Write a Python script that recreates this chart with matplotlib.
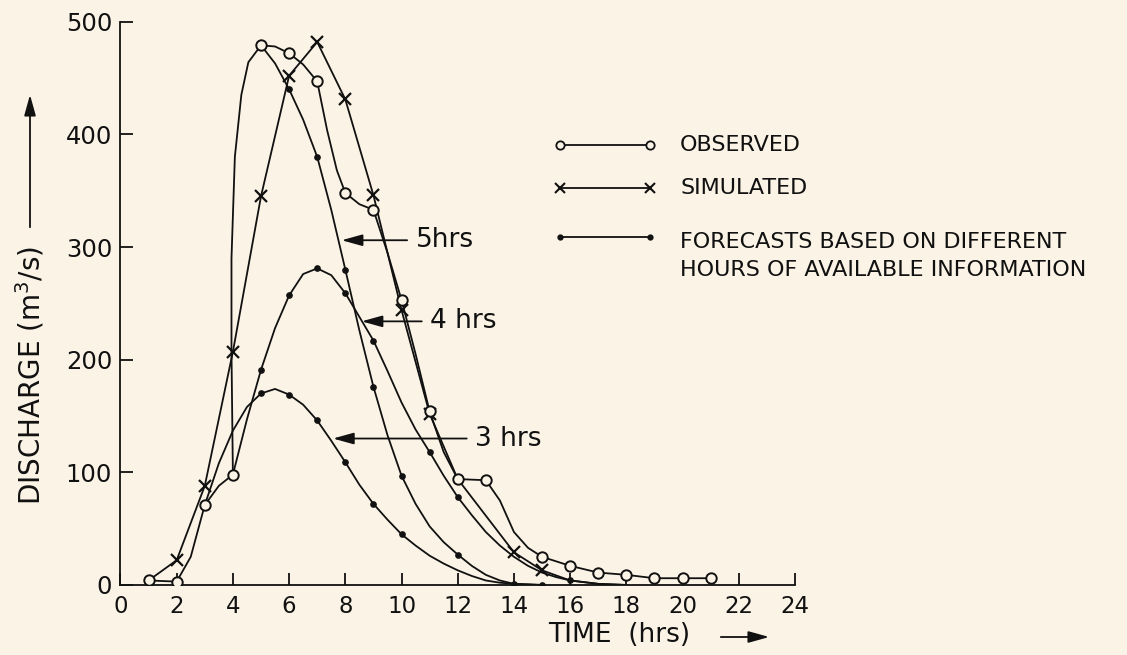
import matplotlib
matplotlib.use('Agg')
import matplotlib.pyplot as plt
from matplotlib.lines import Line2D
from matplotlib.patches import FancyArrowPatch

# Observed hydrograph (open circles). obs_mark = 1 where a circle is drawn,
# 0 for points read along the drawn curve between the circles.
obs_t = [1, 2, 2.5, 3, 3.5, 4, 3.95, 3.95, 4.07, 4.3, 4.55, 5, 5.5, 6, 6.5, 7,
         7.35, 7.7, 8, 8.5, 9, 9.5, 10, 10.5, 11, 11.5, 12, 13, 13.5, 14, 14.5,
         15, 16, 17, 18, 19, 20, 21]
obs_q = [4, 3, 25, 71, 88, 98, 206, 290, 380, 435, 464, 479, 478, 472, 462, 447,
         404, 368, 348, 338, 333, 295, 253, 205, 154, 118, 94, 93, 75, 47, 33,
         25, 17, 11, 9, 6, 6, 6]
obs_mark = [1, 1, 0, 1, 0, 1, 0, 0, 0, 0, 0, 1, 0, 1, 0, 1,
            0, 0, 1, 0, 1, 0, 1, 0, 1, 0, 1, 1, 0, 0, 0,
            1, 1, 1, 1, 1, 1, 1]

# Simulated hydrograph (crosses)
sim_t = [1, 2, 3, 4, 5, 6, 7, 8, 9, 10, 11, 12, 14, 15, 16, 17, 18]
sim_q = [4, 22, 88, 207, 345, 452, 482, 431, 346, 244, 152, 94, 29, 13, 4, 1, 0]
sim_mark = [0, 1, 1, 1, 1, 1, 1, 1, 1, 1, 1, 0, 1, 1, 0, 0, 0]

# Forecasts based on 3, 4 and 5 hours of information (small dots)
f3_t = [3, 3.5, 4, 4.5, 5, 5.5, 6, 6.5, 7, 7.5, 8, 8.5, 9, 9.5, 10, 10.5, 11,
        11.5, 12, 12.5, 13, 13.5, 14, 15]
f3_q = [71, 108, 137, 158, 170, 174, 169, 160, 146, 128, 109, 89, 72, 58, 45,
        35, 26, 19, 13, 8, 4, 2, 1, 0]
f3_dots = [5, 6, 7, 8, 9, 10, 14]

f4_t = [4, 4.5, 5, 5.5, 6, 6.5, 7, 7.5, 8, 8.5, 9, 9.5, 10, 10.5, 11, 11.5, 12,
        12.5, 13, 13.5, 14, 14.5, 15, 15.5, 16, 17, 18]
f4_q = [98, 147, 191, 228, 257, 276, 281, 275, 259, 238, 217, 190, 162, 138,
        118, 97, 78, 62, 47, 35, 25, 17, 11, 7, 4, 1, 0]
f4_dots = [5, 6, 7, 8, 9, 11, 12, 16]

f5_t = [5, 5.5, 6, 6.5, 7, 7.5, 8, 8.5, 9, 9.5, 10, 10.5, 11, 11.5, 12, 12.5,
        13, 13.5, 14, 15]
f5_q = [479, 463, 440, 413, 380, 333, 280, 226, 176, 133, 97, 72, 52, 38, 27,
        17, 9, 4, 1, 0]
f5_dots = [6, 7, 8, 9, 10, 12, 15]

# curve labels: text, arrow tail x, arrow tip x, level
curve_labels = [('5hrs', 10.2, 7.87, 306),
                ('4 hrs', 10.72, 8.58, 234),
                ('3 hrs', 12.32, 7.56, 130)]

x_ticks = list(range(0, 25, 2))
y_ticks = [0, 100, 200, 300, 400, 500]

bg = '#fbf3e6'
ink = '#111111'
lw = 1.3
head = '-|>,head_length=0.9,head_width=0.25'

fig = plt.figure(figsize=(11.27, 6.55), dpi=100, facecolor=bg)
ax = fig.add_axes([0.1069, 0.1069, 0.5985, 0.8600])
ax.set_facecolor(bg)


def idx(flags):
    return [i for i, m in enumerate(flags) if m]


def dot_idx(ts, hours):
    return [i for i, t in enumerate(ts) if t in hours]


# forecasts
for ts, qs, dots in [(f3_t, f3_q, f3_dots), (f4_t, f4_q, f4_dots), (f5_t, f5_q, f5_dots)]:
    ax.plot(ts, qs, color=ink, lw=lw, marker='o', markersize=3.8,
            markevery=dot_idx(ts, dots), zorder=3)

# simulated
ax.plot(sim_t, sim_q, color=ink, lw=lw, marker='x', markersize=8, mew=1.6,
        markevery=idx(sim_mark), zorder=4)

# observed
ax.plot(obs_t, obs_q, color=ink, lw=lw, marker='o', markersize=7.5, mew=1.4,
        mfc=bg, mec=ink, markevery=idx(obs_mark), zorder=5)

# labels with arrows
for text, tail, tip, level in curve_labels:
    ax.annotate('', xy=(tip, level), xytext=(tail, level),
                arrowprops=dict(arrowstyle=head, color=ink, lw=lw,
                                shrinkA=0, shrinkB=0, mutation_scale=14),
                zorder=6)
    ax.text(tail + 0.3, level, text, ha='left', va='center', fontsize=19,
            color=ink)

ax.set_xlim(0, 24)
ax.set_ylim(0, 500)
ax.set_xticks(x_ticks)
ax.set_yticks(y_ticks)
ax.tick_params(direction='in', length=9, width=1.3, labelsize=16.5,
               colors=ink, pad=7)
ax.tick_params(axis='y', labelsize=17.5, pad=6)
for s in ['top', 'right']:
    ax.spines[s].set_visible(False)
for s in ['left', 'bottom']:
    ax.spines[s].set_linewidth(1.3)
    ax.spines[s].set_color(ink)

# axis titles with arrows
fig.text(548 / 1127, 1 - 635 / 655, 'TIME  (hrs)', fontsize=19, color=ink,
         ha='left', va='center')
fig.add_artist(FancyArrowPatch(
    (718 / 1127, 1 - 637 / 655), (772 / 1127, 1 - 637 / 655),
    transform=fig.transFigure, arrowstyle=head,
    mutation_scale=14, color=ink, lw=lw))

fig.text(30 / 1127, 1 - 505 / 655, 'DISCHARGE (m$^3$/s)', fontsize=20,
         color=ink, rotation=90, ha='center', va='bottom')
fig.add_artist(FancyArrowPatch(
    (30 / 1127, 1 - 230 / 655), (30 / 1127, 1 - 92 / 655),
    transform=fig.transFigure, arrowstyle=head,
    mutation_scale=14, color=ink, lw=lw))

# legend drawn by hand
rows = [(145, dict(marker='o', markersize=6, mfc=bg, mec=ink, mew=1.3)),
        (188, dict(marker='x', markersize=7, mew=1.5, mec=ink)),
        (237, dict(marker='o', markersize=3.5, mfc=ink, mec=ink))]
for ypx, mk in rows:
    yf = 1 - ypx / 655
    fig.add_artist(Line2D([560 / 1127, 650 / 1127], [yf, yf], color=ink, lw=lw,
                          transform=fig.transFigure, **mk))
legend_text = [(145, 'OBSERVED'), (188, 'SIMULATED'),
               (242, 'FORECASTS BASED ON DIFFERENT'),
               (270, 'HOURS OF AVAILABLE INFORMATION')]
for ypx, t in legend_text:
    fig.text(680 / 1127, 1 - ypx / 655, t, fontsize=16, color=ink,
             ha='left', va='center')

fig.savefig('out.png', dpi=100, facecolor=bg)
